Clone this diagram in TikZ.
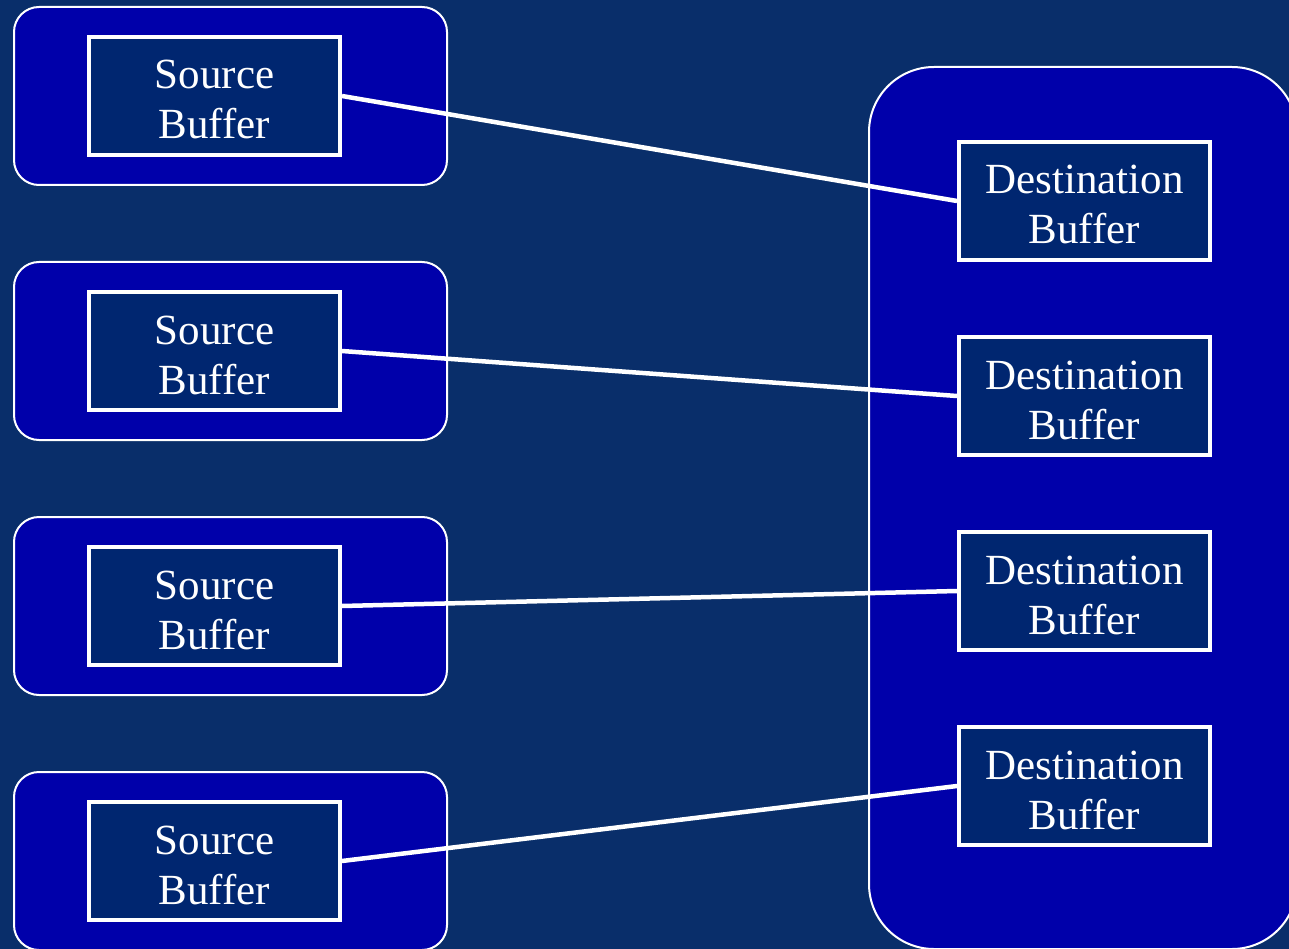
\documentclass[tikz,border=0pt]{standalone}
\usepackage{fontspec}
\setmainfont{Liberation Serif}
\definecolor{pagebg}{RGB}{9,46,106}
\definecolor{panelfill}{RGB}{0,0,170}
\definecolor{bufferfill}{RGB}{0,38,112}
% two-line buffer label, lines 50pt apart, set slightly below the box centre
\newcommand{\twoline}[2]{\setlength{\tabcolsep}{0pt}\begin{tabular}{c}\rule{0pt}{51pt}#1\\#2\end{tabular}}
\begin{document}
\begin{tikzpicture}[x=1pt,y=-1pt,
  panel/.style={draw=white,line width=2pt,fill=panelfill},
  buffer/.style={draw=white,line width=4pt,fill=bufferfill,rectangle,
    inner sep=0pt,minimum width=251pt,minimum height=118pt,
    text=white,font=\fontsize{43}{50}\selectfont},
  link/.style={draw=white,line width=4.5pt}]
  % page background
  \fill[pagebg] (0,0) rectangle (1289,949);
  \useasboundingbox (0,0) rectangle (1289,949);

  % source panels
  \foreach \y in {0,255,510,765}{
    \draw[panel,rounded corners=25pt] (14,7+\y) rectangle (447,185+\y);
  }
  % destination panel
  \draw[panel,rounded corners=65pt] (869,67) rectangle (1297,949);

  % source buffers
  \node[buffer] (s1) at (214.5,96)  {\twoline{Source}{Buffer}};
  \node[buffer] (s2) at (214.5,351) {\twoline{Source}{Buffer}};
  \node[buffer] (s3) at (214.5,606) {\twoline{Source}{Buffer}};
  \node[buffer] (s4) at (214.5,861) {\twoline{Source}{Buffer}};

  % destination buffers
  \node[buffer] (d1) at (1084.5,201) {\twoline{Destination}{Buffer}};
  \node[buffer] (d2) at (1084.5,396) {\twoline{Destination}{Buffer}};
  \node[buffer] (d3) at (1084.5,591) {\twoline{Destination}{Buffer}};
  \node[buffer] (d4) at (1084.5,786) {\twoline{Destination}{Buffer}};

  % connections
  \draw[link] (s1.east) -- (d1.west);
  \draw[link] (s2.east) -- (d2.west);
  \draw[link] (s3.east) -- (d3.west);
  \draw[link] (s4.east) -- (d4.west);
\end{tikzpicture}
\end{document}
